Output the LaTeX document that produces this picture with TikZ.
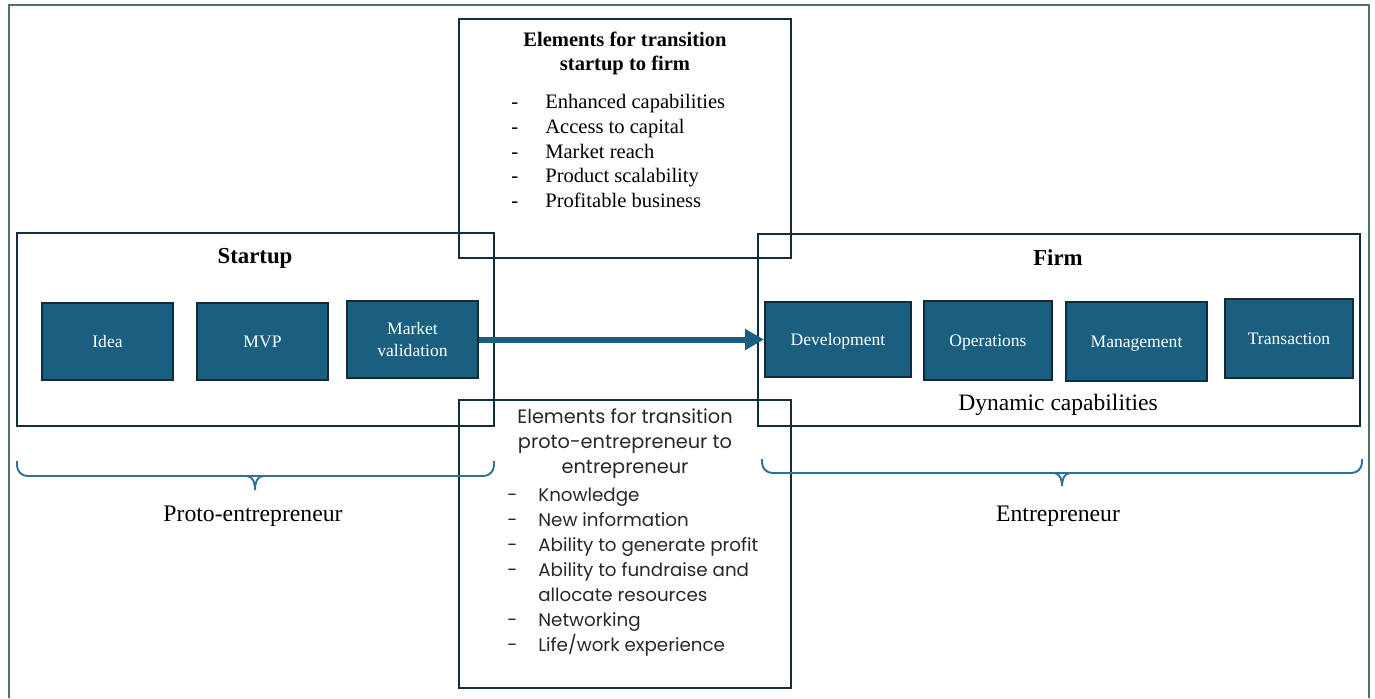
\documentclass[tikz,border=0pt]{standalone}
\usepackage{fontspec}
\setmainfont{Liberation Serif}
\newfontfamily\gothicfont{Poppins}
\usetikzlibrary{arrows.meta}
\definecolor{capblue}{RGB}{26,95,128}
\definecolor{edgeblue}{RGB}{16,44,60}
\definecolor{framenavy}{RGB}{17,45,62}
\definecolor{braceblue}{RGB}{46,112,150}
\definecolor{outergreen}{RGB}{80,115,105}
\definecolor{gothicgrey}{RGB}{40,40,40}

\begin{document}
\begin{tikzpicture}[x=0.02cm, y=-0.02cm,
    stage/.style={rectangle, draw=framenavy, line width=1.5pt, inner sep=0pt},
    capbox/.style={rectangle, draw=edgeblue, line width=1.1pt, fill=capblue, text=white,
               font=\fontsize{10}{12.5}\selectfont, align=center, inner sep=2pt, text depth=0pt},
    lbl/.style={font=\fontsize{13.5}{16}\selectfont, inner sep=0pt},
    head/.style={font=\fontsize{13}{15}\selectfont\bfseries, inner sep=0pt},
    brc/.style={draw=braceblue, line width=1.1pt},
    arr/.style={-{Triangle[length=3.8mm, width=4mm]}, line width=3.4pt, capblue}
]
    \useasboundingbox (0,0) rectangle (1375,698);
    % outer frame (open at the bottom)
    \draw[outergreen, line width=1.1pt] (9,698) -- (9,5) -- (1369,5) -- (1369,698);

    % Big frames: startup, firm, and the two transition boxes
    \node[stage, minimum width=9.54cm, minimum height=3.86cm]  (startup) at (255.5,329.5) {};
    \node[stage, minimum width=12.04cm, minimum height=3.84cm] (firm)    at (1059,330) {};
    \node[stage, minimum width=6.64cm, minimum height=4.78cm]  (trfirm)  at (625,138.5) {};
    \node[stage, minimum width=6.64cm, minimum height=5.76cm]  (trentr)  at (625,544) {};

    \node[head] (startuplbl) at (255,258) {Startup};
    \node[head] (firmlbl)    at (1058,258) {Firm};

    % Startup stages
    \node[capbox, minimum width=2.62cm, minimum height=1.54cm] (idea) at (107.5,341.5) {Idea};
    \node[capbox, minimum width=2.62cm, minimum height=1.54cm] (mvp)  at (262.5,341.5) {MVP};
    \node[capbox, minimum width=2.62cm, minimum height=1.54cm] (mval) at (412.5,339.5) {Market\\validation};

    % Firm capabilities
    \node[capbox, minimum width=2.92cm, minimum height=1.50cm] (dev)   at (838,339.5)  {Development};
    \node[capbox, minimum width=2.56cm, minimum height=1.58cm] (ops)   at (988,340.5)  {Operations};
    \node[capbox, minimum width=2.82cm, minimum height=1.58cm] (mgmt)  at (1136.5,341.5) {Management};
    \node[capbox, minimum width=2.56cm, minimum height=1.58cm] (trans) at (1289,338.5) {Transaction};
    \node[lbl, font=\fontsize{13.4}{16}\selectfont] (dyncap) at (1058,405) {Dynamic capabilities};

    \draw[arr] (mval.east) -- (dev.west);

    % Transition startup -> firm
    \node[font=\fontsize{11.7}{13.6}\selectfont\bfseries, align=center, inner sep=0pt] (tfirmtitle) at (625,53)
        {Elements for transition\\startup to firm};
    \node[anchor=west, font=\fontsize{11.7}{14.2}\selectfont, inner sep=0pt] (tfirmlist) at (511,153)
        {\begin{tabular}{@{}p{0.68cm}@{}l@{}}
         - & Enhanced capabilities\\
         - & Access to capital\\
         - & Market reach\\
         - & Product scalability\\
         - & Profitable business
         \end{tabular}};

    % Transition proto-entrepreneur -> entrepreneur
    \node[font=\gothicfont\fontsize{11}{14.2}\selectfont, text=gothicgrey, align=center, inner sep=0pt] (tentrtitle) at (625,444)
        {Elements for transition\\proto-entrepreneur to\\entrepreneur};
    \node[anchor=west, font=\gothicfont\fontsize{10.4}{14.2}\selectfont, text=gothicgrey, inner sep=0pt] (tentrlist) at (507,571.5)
        {\begin{tabular}{@{}p{0.62cm}@{}l@{}}
         - & Knowledge\\
         - & New information\\
         - & Ability to generate profit\\
         - & Ability to fundraise and\\
           & allocate resources\\
         - & Networking\\
         - & Life/work experience
         \end{tabular}};

    % Braces
    \draw[brc, rounded corners=6] (17,461) -- (17,476) -- (494,476) -- (494,461);
    \draw[brc] (247,476) to[out=0, in=90] (255,490) to[out=90, in=180] (263,476);
    \draw[brc, rounded corners=6] (762,459) -- (762,473) -- (1362,473) -- (1362,459);
    \draw[brc] (1054,473) to[out=0, in=90] (1062,486) to[out=90, in=180] (1070,473);

    \node[lbl] (protolbl) at (253,516)  {Proto-entrepreneur};
    \node[lbl] (entlbl)   at (1058,516) {Entrepreneur};
\end{tikzpicture}
\end{document}
